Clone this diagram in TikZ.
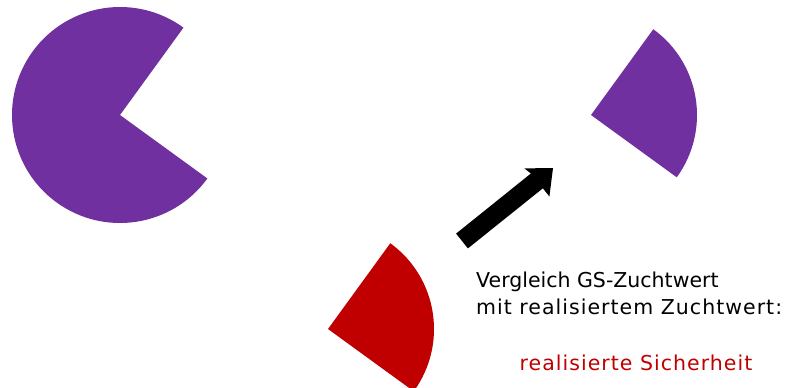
\documentclass[tikz,border=0pt]{standalone}
\usepackage{fontspec}
\setmainfont{DejaVu Sans}
\newfontfamily\widefont[LetterSpace=5]{DejaVu Sans}
\definecolor{ppurple}{HTML}{7030A0}
\definecolor{pred}{HTML}{C00000}
\begin{document}
\begin{tikzpicture}[x=1pt,y=1pt,
  txt/.style={inner sep=0pt,font=\fontsize{20.5}{27}\selectfont},
  wtxt/.style={inner sep=0pt,font=\widefont\fontsize{20.5}{27}\selectfont}]
\useasboundingbox (0,0) rectangle (790,-388);
% pac-man
\fill[ppurple] (120,-115) -- ++(54:108pt) arc[start angle=54,end angle=324,radius=108pt] -- cycle;
% missing piece
\fill[ppurple] (591,-115) -- ++(-36:106pt) arc[start angle=-36,end angle=54,radius=106pt] -- cycle;
% red sector
\fill[pred] (328,-329) -- ++(-36:106pt) arc[start angle=-36,end angle=54,radius=106pt] -- cycle;
% block arrow
\fill[black] (456.1,-233.6) -- (530.9,-173.5) -- (524.4,-168.4) -- (553,-168) -- (549.4,-196.5) -- (542.9,-188.3) -- (467.9,-248.4) -- cycle;
% texts
\node[txt,anchor=base west] (l1) at (476,-287) {Vergleich GS-Zuchtwert};
\node[wtxt,anchor=base west] (l2) at (476,-314) {mit realisiertem Zuchtwert:};
\node[wtxt,anchor=base,text=pred] (l3) at (636,-370) {realisierte Sicherheit};
\end{tikzpicture}
\end{document}
